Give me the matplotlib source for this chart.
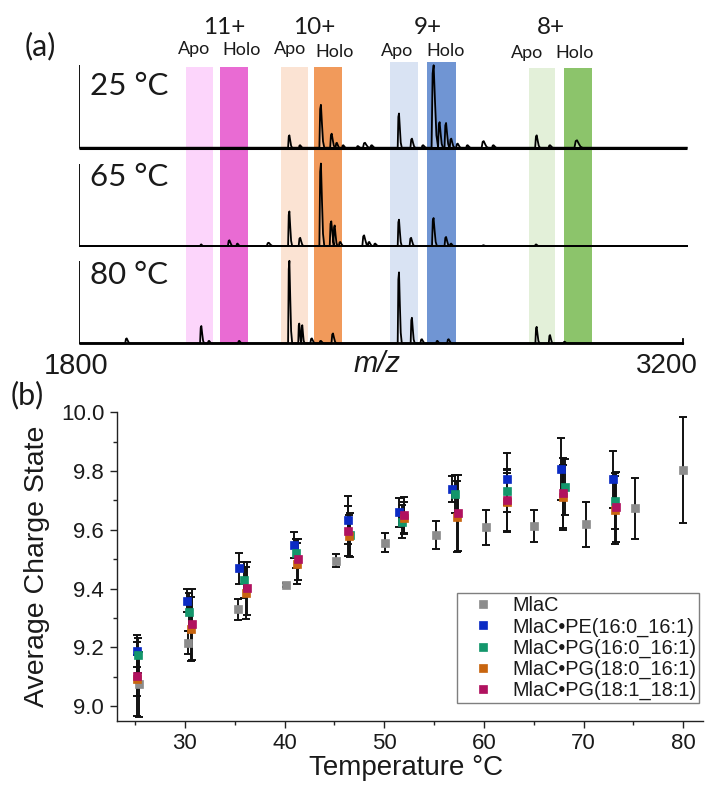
import matplotlib
matplotlib.use("Agg")
import matplotlib.pyplot as plt
import numpy as np

plt.rcParams['font.family'] = ['Liberation Sans', 'DejaVu Sans']

# ---------------- DATA ----------------
# (a) mass spectra: peaks as (m/z, relative height, width in m/z)
peaks_25 = [(2287, 0.15, 5), (2312, 0.03, 5), (2360, 0.52, 6), (2385, 0.17, 6),
            (2397, 0.06, 5), (2412, 0.03, 5), (2446, 0.02, 5), (2462, 0.06, 8),
            (2478, 0.03, 6), (2541, 0.415, 5), (2571, 0.11, 6), (2597, 0.03, 6),
            (2621, 1.0, 8), (2635, 0.31, 6), (2650, 0.30, 6), (2662, 0.11, 6),
            (2677, 0.05, 6), (2700, 0.03, 6), (2737, 0.08, 8), (2760, 0.03, 6),
            (2860, 0.15, 6), (2891, 0.03, 6), (2953, 0.09, 10)]
peaks_65 = [(2083, 0.02, 4), (2148, 0.07, 6), (2167, 0.03, 5), (2239, 0.04, 8),
            (2287, 0.42, 5), (2312, 0.10, 6), (2360, 1.0, 6), (2384, 0.30, 6),
            (2392, 0.25, 5), (2405, 0.05, 6), (2460, 0.13, 7), (2472, 0.05, 6),
            (2486, 0.03, 6), (2541, 0.32, 5), (2569, 0.10, 6), (2621, 0.34, 6),
            (2650, 0.11, 6), (2662, 0.03, 5), (2737, 0.01, 5), (2859, 0.02, 5)]
peaks_80 = [(1910, 0.06, 6), (2083, 0.21, 5), (2101, 0.03, 5), (2171, 0.03, 5),
            (2287, 1.0, 5), (2310, 0.24, 4), (2317, 0.22, 4), (2339, 0.06, 6),
            (2360, 0.03, 6), (2388, 0.12, 6), (2541, 0.86, 5), (2571, 0.31, 5),
            (2594, 0.05, 6), (2630, 0.03, 5), (2656, 0.05, 6), (2860, 0.20, 5),
            (2891, 0.10, 5), (2925, 0.02, 5)]
spectra_labels = ["25 °C", "65 °C", "80 °C"]

# highlighted m/z windows
charge_states = ["11+", "10+", "9+", "8+"]
apo_windows = [(2049, 2111), (2268, 2331), (2521, 2586), (2843, 2904)]
holo_windows = [(2127, 2192), (2345, 2410), (2607, 2673), (2924, 2989)]
apo_colors = ['#fcd5fb', '#fbe3d3', '#d9e3f3', '#e3f0d9']
holo_colors = ['#e96bd3', '#f19a5b', '#7095d3', '#8cc46b']
window_tops = [3.353, 3.353, 3.413, 3.333]

# (b) average charge state vs temperature
mlac_t = [25.4, 30.3, 35.3, 40.1, 45.2, 50.1, 55.2, 60.2, 65.0, 70.2, 75.2, 80.0]
mlac_v = [9.074, 9.216, 9.329, 9.412, 9.494, 9.556, 9.582, 9.608, 9.613, 9.619, 9.673, 9.804]
mlac_e = [0.11, 0.04, 0.035, 0.008, 0.022, 0.032, 0.048, 0.06, 0.056, 0.076, 0.105, 0.18]

pe_t = [25.15, 30.2, 35.45, 40.9, 46.4, 51.5, 56.8, 62.3, 67.7, 72.9]
pe_v = [9.188, 9.359, 9.469, 9.548, 9.633, 9.659, 9.738, 9.774, 9.807, 9.772]
pe_e = [0.055, 0.038, 0.053, 0.043, 0.082, 0.05, 0.045, 0.088, 0.104, 0.097]

pg16_t = [25.25, 30.4, 35.9, 41.1, 46.6, 51.8, 57.1, 62.3, 68.1, 73.2]
pg16_v = [9.173, 9.321, 9.429, 9.520, 9.582, 9.628, 9.721, 9.732, 9.745, 9.699]
pg16_e = [0.06, 0.065, 0.06, 0.05, 0.075, 0.055, 0.065, 0.07, 0.095, 0.095]

pg18_t = [25.2, 30.6, 36.1, 41.2, 46.5, 52.0, 57.3, 62.3, 67.9, 73.2]
pg18_v = [9.092, 9.262, 9.385, 9.485, 9.58, 9.64, 9.645, 9.693, 9.71, 9.668]
pg18_e = [0.125, 0.11, 0.09, 0.07, 0.07, 0.055, 0.12, 0.1, 0.11, 0.115]

pg181_t = [25.15, 30.7, 36.2, 41.3, 46.4, 52.0, 57.4, 62.3, 67.9, 73.3]
pg181_v = [9.103, 9.278, 9.401, 9.500, 9.596, 9.650, 9.658, 9.701, 9.726, 9.677]
pg181_e = [0.07, 0.12, 0.09, 0.07, 0.085, 0.06, 0.13, 0.105, 0.12, 0.12]

series_names = ["MlaC", "MlaC•PE(16:0_16:1)", "MlaC•PG(16:0_16:1)",
                "MlaC•PG(18:0_16:1)", "MlaC•PG(18:1_18:1)"]
series_colors = ['#8c8c8c', '#0b2bc4', '#13966b', '#c8650f', '#b0125f']

# ---------------- FIGURE ----------------
W, H = 713, 786
fig = plt.figure(figsize=(W / 100, H / 100), dpi=100)


def P(x, y):
    """pixel position (from top-left) -> figure fraction"""
    return x / W, 1 - y / H


TOPFONT = ['Lato', 'DejaVu Sans']

# ---- panel (a) ----
ax_a = fig.add_axes([79 / W, 1 - 345 / H, 608.5 / W, 286.3 / H])
ax_a.set_xlim(1800, 3210)
ax_a.set_ylim(-0.02, 3.45)
ax_a.axis('off')

for (lo, hi), c, top in zip(apo_windows, apo_colors, window_tops):
    ax_a.bar(lo, top, width=hi - lo, align='edge', color=c, lw=0, zorder=0)
for (lo, hi), c, top in zip(holo_windows, holo_colors, window_tops):
    ax_a.bar(lo, top, width=hi - lo, align='edge', color=c, lw=0, zorder=0)

offsets = [2.371, 1.179, 0.0]
base_lw = [2.2, 1.4, 2.0]
line_end = [3208, 3210, 3200]
label_dy = [0.75, 0.84, 0.83]
tmpl_dx = np.array([-0.5, -0.2, 0.1, 0.5, 0.9, 1.4])
tmpl_dy = np.array([0.0, 0.9, 1.0, 0.55, 0.15, 0.0])

for peaks, off, lw, xe, lab, ldy in zip([peaks_25, peaks_65, peaks_80], offsets,
                                        base_lw, line_end, spectra_labels, label_dy):
    xs, ys = [1800], [off]
    for mz, h, w in sorted(peaks):
        xs.extend(mz + tmpl_dx * w)
        ys.extend(off + tmpl_dy * h)
    xs.append(xe)
    ys.append(off)
    ax_a.fill(xs, ys, facecolor='#ffffff', alpha=0.35, lw=0, zorder=2)
    ax_a.plot(xs, ys, color='black', lw=1.3, zorder=3)
    ax_a.plot([1800, xe], [off, off], color='black', lw=lw, zorder=4,
              solid_capstyle='butt')
    ax_a.plot([1800, 1800], [off, off + 1.0], color='black', lw=1.3, zorder=4,
              solid_capstyle='butt')
    ax_a.text(1825, off + ldy, lab, ha='left', va='center', fontsize=22.5,
              family=TOPFONT, color='#1a1a1a')

ax_a.plot([3200, 3200], [-0.04, 0.05], color='black', lw=1.3, zorder=4)

# charge-state labels
charge_pos = [(224, 27), (314, 27), (427.5, 27), (550.8, 28)]
apo_pos = [(193.7, 49), (289.7, 49), (397.5, 50.7), (527, 53.3)]
holo_pos = [(241.3, 50), (335, 52), (445.8, 50.7), (575, 53)]
for cs, cp, ap, hp in zip(charge_states, charge_pos, apo_pos, holo_pos):
    fig.text(*P(*cp), cs, ha='center', va='center', fontsize=17.5, family=TOPFONT,
             color='#1a1a1a')
    fig.text(*P(*ap), "Apo", ha='center', va='center', fontsize=13,
             family=TOPFONT, color='#1a1a1a')
    fig.text(*P(*hp), "Holo", ha='center', va='center', fontsize=13,
             family=TOPFONT, color='#1a1a1a')

fig.text(*P(76, 366), "1800", ha='center', va='center', fontsize=21, color='#1a1a1a')
fig.text(*P(666.7, 366), "3200", ha='center', va='center', fontsize=20, color='#1a1a1a')
fig.text(*P(377, 364), "m/z", ha='center', va='center', fontsize=21,
         style='italic', color='#1a1a1a')
fig.text(*P(40, 46), "(a)", ha='center', va='center', fontsize=22, family=TOPFONT,
         color='#1a1a1a')
fig.text(*P(27, 395), "(b)", ha='center', va='center', fontsize=22, family=TOPFONT,
         color='#1a1a1a')

# ---- panel (b) ----
ax_b = fig.add_axes([116.7 / W, 1 - 720.7 / H, 586.3 / W, 308.4 / H])
ax_b.set_xlim(23.15, 81.98)
ax_b.set_ylim(8.95, 10.0)
for s in ['top', 'right']:
    ax_b.spines[s].set_visible(False)
for s in ['left', 'bottom']:
    ax_b.spines[s].set_linewidth(1.0)
    ax_b.spines[s].set_color('#222222')

series = [(mlac_t, mlac_v, mlac_e), (pe_t, pe_v, pe_e), (pg16_t, pg16_v, pg16_e),
          (pg18_t, pg18_v, pg18_e), (pg181_t, pg181_v, pg181_e)]
for (t, v, e), name, c in zip(series, series_names, series_colors):
    ax_b.errorbar(t, v, yerr=e, fmt='none', ecolor='#111111', elinewidth=1.4,
                  capsize=3.2, capthick=1.4, zorder=2)
for (t, v, e), name, c in zip(series, series_names, series_colors):
    ax_b.plot(t, v, 's', color=c, ms=6.2, mec=c, mew=0.5, label=name, zorder=3)

ax_b.set_xticks(np.arange(30, 81, 10))
ax_b.set_xticks(np.arange(25, 81, 10), minor=True)
ax_b.set_yticks(np.arange(9.0, 10.01, 0.2))
ax_b.set_yticks(np.arange(9.1, 10.0, 0.2), minor=True)
ax_b.set_yticklabels([f"{v:.1f}" for v in np.arange(9.0, 10.01, 0.2)])
ax_b.tick_params(which='major', direction='out', length=5, width=1.0, labelsize=16,
                 pad=4, color='#222222', labelcolor='#1a1a1a')
ax_b.tick_params(which='minor', direction='out', length=3, width=1.0, color='#222222')

ax_b.set_xlabel("Temperature °C", fontsize=20, color='#1a1a1a')
ax_b.xaxis.set_label_coords(0.493, -0.11)
ax_b.set_ylabel("Average Charge State", fontsize=20.5, color='#1a1a1a')
ax_b.yaxis.set_label_coords(-0.113, 0.5)

leg = ax_b.legend(loc='lower right', bbox_to_anchor=(0.9937, 0.0564),
                  borderaxespad=0, fontsize=14.3, frameon=True, fancybox=False,
                  edgecolor='#7f7f7f', framealpha=1, borderpad=0.15,
                  labelspacing=0.1, handlelength=2.3, handletextpad=0.3,
                  markerscale=1.0)
leg.get_frame().set_linewidth(1.0)
for txt in leg.get_texts():
    txt.set_color('#1a1a1a')

fig.savefig("out.png", dpi=100)
